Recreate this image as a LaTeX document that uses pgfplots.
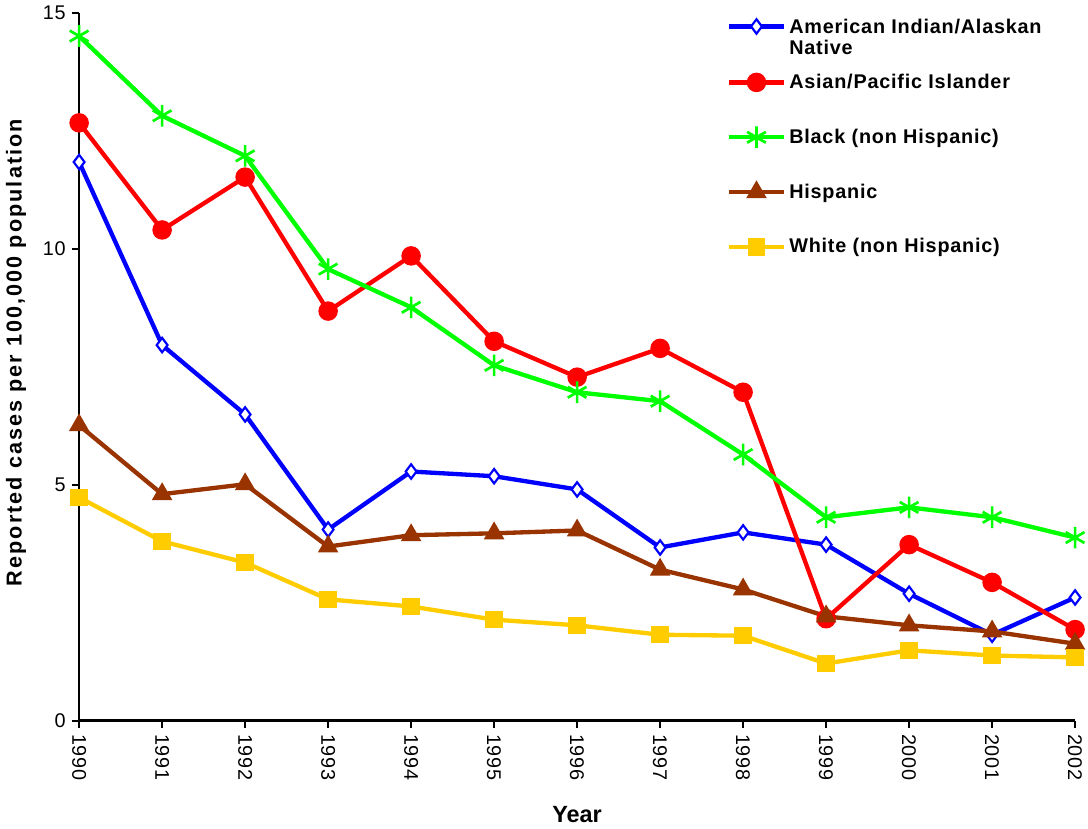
\documentclass[border=0pt]{standalone}
\usepackage{pgfplots}
\pgfplotsset{compat=1.18}
\usepackage{fontspec}
\setmainfont{Liberation Sans}
\definecolor{cBlue}{RGB}{0,0,255}
\definecolor{cRed}{RGB}{255,0,0}
\definecolor{cGreen}{RGB}{0,255,0}
\definecolor{cBrown}{RGB}{153,51,0}
\definecolor{cYellow}{RGB}{255,204,0}
\begin{document}
\begin{tikzpicture}
\begin{axis}[
  scale only axis,
  width=552.8pt, height=392.8pt,
  xmin=1990, xmax=2002, ymin=0, ymax=15,
  clip=false,
  axis x line=bottom, axis y line=left,
  axis line style={-, line width=1.3pt, black},
  xtick={1990,...,2002},
  ytick={0,5,10,15},
  tick align=outside,
  major tick length=4pt,
  tick style={line width=1.2pt, black},
  x tick label style={rotate=-90, anchor=west, font=\fontsize{11}{13}\selectfont\addfontfeature{LetterSpace=3}},
  y tick label style={font=\fontsize{11}{13}\selectfont\addfontfeature{LetterSpace=3}},
  /pgf/number format/assume math mode=true,
  xticklabel={\pgfmathprintnumber[1000 sep={}]{\tick}},
  xlabel={Year},
  xlabel style={font=\bfseries\fontsize{13}{15}\selectfont, at={(axis description cs:0.5,-0.133)}, anchor=center},
  ylabel={Reported cases per 100,000 population},
  ylabel style={font=\bfseries\fontsize{12}{14}\selectfont\addfontfeature{LetterSpace=9.5}, at={(axis description cs:-0.0633,0.52)}, anchor=center},
  every axis plot/.append style={line width=2.4pt},
  legend image code/.code={\draw[mark repeat=2,mark phase=2,#1] plot coordinates {(0pt,0pt)(15pt,0pt)(30pt,0pt)};},
  legend cell align=left,
  legend style={draw=none, fill=none, at={(axis description cs:0.645,1.005)}, anchor=north west,
    font=\bfseries\fontsize{11}{13}\selectfont\addfontfeature{LetterSpace=4}, row sep=17pt,
    nodes={inner xsep=2pt}},
]
\addplot[color=cBlue, mark=diamond*, mark size=4pt, mark options={fill=white, line width=1.2pt}]
coordinates {(1990,11.84)(1991,7.96)(1992,6.49)(1993,4.05)(1994,5.28)(1995,5.18)(1996,4.90)(1997,3.67)(1998,3.99)(1999,3.73)(2000,2.69)(2001,1.82)(2002,2.61)};
\addlegendentry{\raisebox{0pt}[\height][0pt]{\begin{tabular}[t]{@{}l@{}}American Indian/Alaskan\\[-1pt]Native\end{tabular}}}
\addplot[color=cRed, mark=*, mark size=4.2pt]
coordinates {(1990,12.67)(1991,10.40)(1992,11.52)(1993,8.68)(1994,9.85)(1995,8.04)(1996,7.28)(1997,7.89)(1998,6.96)(1999,2.16)(2000,3.73)(2001,2.93)(2002,1.93)};
\addlegendentry{Asian/Pacific Islander}
\addplot[color=cGreen, mark=asterisk, mark size=6pt, mark options={line width=1.5pt}]
coordinates {(1990,14.51)(1991,12.82)(1992,11.97)(1993,9.57)(1994,8.76)(1995,7.53)(1996,6.96)(1997,6.77)(1998,5.64)(1999,4.31)(2000,4.52)(2001,4.31)(2002,3.88)};
\addlegendentry{Black (non Hispanic)}
\addplot[color=cBrown, mark=triangle*, mark size=4.2pt]
coordinates {(1990,6.26)(1991,4.80)(1992,5.01)(1993,3.69)(1994,3.93)(1995,3.97)(1996,4.03)(1997,3.20)(1998,2.78)(1999,2.21)(2000,2.02)(2001,1.89)(2002,1.63)};
\addlegendentry{Hispanic}
\addplot[color=cYellow, mark=square*, mark size=3.6pt]
coordinates {(1990,4.73)(1991,3.80)(1992,3.35)(1993,2.57)(1994,2.42)(1995,2.14)(1996,2.02)(1997,1.82)(1998,1.80)(1999,1.21)(2000,1.49)(2001,1.38)(2002,1.34)};
\addlegendentry{White (non Hispanic)}
\end{axis}
\end{tikzpicture}
\end{document}
